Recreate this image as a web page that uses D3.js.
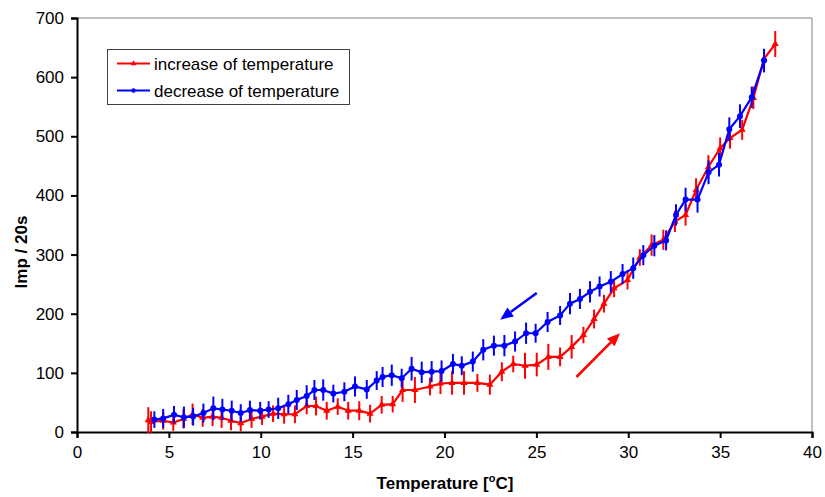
<!DOCTYPE html>
<html>
<head>
<meta charset="utf-8">
<script src="https://cdn.jsdelivr.net/npm/d3@7"></script>
<style>
  body { margin: 0; background: #fff; }
  text { font-family: "Liberation Sans", Arial, sans-serif; }
</style>
</head>
<body>
<svg id="chart" width="825" height="497"></svg>
<script>
// increase of temperature (red)
var upTemp = [3.88, 4.03, 4.69, 5.24, 5.79, 6.29, 6.84, 7.38, 7.87, 8.38, 8.91, 9.5, 10.07, 10.67, 11.27, 11.86,
    12.5, 13.01, 13.59, 14.19, 14.76, 15.36, 15.95, 16.58, 17.18, 17.72, 18.39, 19.21, 19.78, 20.41, 21.06,
    21.79, 22.47, 23.12, 23.74, 24.38, 25.02, 25.65, 26.29, 26.92, 27.56, 28.14, 28.68, 29.23, 29.96, 30.63,
    31.27, 31.91, 32.54, 33.12, 33.69, 34.36, 35.0, 35.54, 36.2, 36.81, 37.39, 38.0];
var upImp = [20, 17, 19, 16, 22, 30, 24, 26, 24, 19, 15, 22, 26, 31, 30, 30,
    44, 44, 36, 43, 36, 36, 31, 46, 47, 71, 71, 77, 82, 83, 83,
    83, 80, 102, 115, 112, 114, 127, 127, 144, 164, 191, 217, 243, 257, 295,
    316, 325, 356, 367, 409, 448, 480, 497, 511, 565, 631, 656];
var upErr = [22, 18, 15, 14, 16, 18, 15, 16, 17, 16, 14, 15, 14, 14, 16, 15,
    14, 16, 15, 14, 15, 16, 15, 15, 14, 20, 22, 15, 18, 20, 20,
    15, 17, 16, 14, 22, 20, 22, 16, 20, 14, 16, 15, 15, 16, 14,
    18, 17, 18, 18, 20, 20, 18, 18, 17, 19, 16, 22];

// decrease of temperature (blue)
var downTemp = [4.21, 4.69, 5.28, 5.82, 6.32, 6.88, 7.42, 7.91, 8.42, 8.91, 9.41, 9.97, 10.43, 10.95, 11.5,
    11.96, 12.5, 12.92, 13.4, 13.95, 14.55, 15.13, 15.77, 16.31, 16.63, 17.13, 17.67, 18.21, 18.76, 19.3,
    19.84, 20.46, 20.94, 21.54, 22.11, 22.69, 23.26, 23.84, 24.44, 24.96, 25.61, 26.29, 26.83, 27.37, 27.92,
    28.44, 29.05, 29.69, 30.27, 30.82, 31.42, 32.06, 32.6, 33.12, 33.77, 34.37, 34.94, 35.5, 36.08, 36.72, 37.39];
var downImp = [21, 23, 29, 25, 26, 32, 40, 38, 36, 32, 37, 36, 38, 40, 47,
    54, 61, 71, 71, 65, 68, 77, 72, 87, 93, 96, 91, 107, 101, 102,
    103, 115, 112, 119, 139, 146, 146, 153, 167, 167, 186, 197, 217, 225, 237,
    246, 254, 267, 277, 299, 315, 324, 367, 393, 393, 439, 452, 512, 534, 566, 628];
var downErr = [14, 16, 15, 18, 15, 16, 20, 18, 17, 15, 16, 15, 14, 18, 16,
    17, 18, 17, 18, 15, 16, 17, 16, 16, 17, 18, 16, 20, 18, 18,
    18, 17, 16, 17, 18, 17, 18, 17, 18, 16, 17, 16, 18, 17, 18,
    17, 18, 17, 18, 17, 18, 17, 18, 20, 22, 20, 20, 20, 20, 18, 20];

var xTicks = [0, 5, 10, 15, 20, 25, 30, 35, 40];
var yTicks = [0, 100, 200, 300, 400, 500, 600, 700];

// direction arrows [fromTemp, fromImp, toTemp, toImp]
var arrows = [
    { color: '#0000ff', pts: [25.02, 235, 23.03, 190] },
    { color: '#ff0000', pts: [27.18, 93, 29.55, 167] }
];

var svg = d3.select('#chart');
var x = d3.scaleLinear().domain([0, 40]).range([77, 812]);
var y = d3.scaleLinear().domain([0, 700]).range([432, 18]);

// top and right frame
svg.append('path')
    .attr('d', 'M' + x(0) + ',' + y(700) + 'H' + x(40) + 'V' + y(0))
    .attr('fill', 'none')
    .attr('stroke', '#808080')
    .attr('stroke-width', 1);

// axes
var xAxis = svg.append('g')
    .attr('transform', 'translate(0,' + y(0) + ')')
    .call(d3.axisBottom(x).tickValues(xTicks).tickSize(6).tickPadding(8));
var yAxis = svg.append('g')
    .attr('transform', 'translate(' + x(0) + ',0)')
    .call(d3.axisLeft(y).tickValues(yTicks).tickSize(6).tickPadding(7));
[xAxis, yAxis].forEach(function (g) {
    g.select('.domain').attr('stroke', '#000').attr('stroke-width', 2);
    g.selectAll('.tick line').attr('stroke', '#000').attr('stroke-width', 2);
    g.selectAll('.tick text').attr('font-size', 17).attr('fill', '#000')
        .attr('font-family', '"Liberation Sans", Arial, sans-serif');
});

// axis titles
svg.append('text')
    .attr('x', 445).attr('y', 489)
    .attr('text-anchor', 'middle')
    .attr('font-size', 17).attr('font-weight', 'bold')
    .html('Temperature [<tspan dy="-7" font-size="11">o</tspan><tspan dy="7">C]</tspan>');
svg.append('text')
    .attr('transform', 'translate(27,252) rotate(-90)')
    .attr('text-anchor', 'middle')
    .attr('font-size', 17).attr('font-weight', 'bold')
    .text('Imp / 20s');

var series = [
    { t: upTemp, v: upImp, e: upErr, color: '#ff0000', marker: 'tri' },
    { t: downTemp, v: downImp, e: downErr, color: '#0000ff', marker: 'dot' }
];

var line = d3.line().x(function (d) { return x(d.t); }).y(function (d) { return y(d.v); });
var triangle = d3.symbol().type(d3.symbolTriangle).size(22);

series.forEach(function (s) {
    var pts = s.t.map(function (t, i) { return { t: t, v: s.v[i], e: s.e[i] }; });
    var g = svg.append('g');

    g.selectAll('.err')
        .data(pts).enter().append('line')
        .attr('x1', function (d) { return x(d.t); })
        .attr('x2', function (d) { return x(d.t); })
        .attr('y1', function (d) { return y(d.v - d.e); })
        .attr('y2', function (d) { return y(d.v + d.e); })
        .attr('stroke', s.color)
        .attr('stroke-width', 2);

    g.append('path')
        .datum(pts)
        .attr('d', line)
        .attr('fill', 'none')
        .attr('stroke', s.color)
        .attr('stroke-width', 2.2);

    if (s.marker === 'tri') {
        g.selectAll('.mk')
            .data(pts).enter().append('path')
            .attr('d', triangle)
            .attr('transform', function (d) { return 'translate(' + x(d.t) + ',' + y(d.v) + ')'; })
            .attr('fill', s.color);
    } else {
        g.selectAll('.mk')
            .data(pts).enter().append('circle')
            .attr('cx', function (d) { return x(d.t); })
            .attr('cy', function (d) { return y(d.v); })
            .attr('r', 3)
            .attr('fill', s.color);
    }
});

// arrows
arrows.forEach(function (a) {
    var x1 = x(a.pts[0]), y1 = y(a.pts[1]), x2 = x(a.pts[2]), y2 = y(a.pts[3]);
    var ang = Math.atan2(y2 - y1, x2 - x1);
    var len = 13, w = 5.5;
    var bx = x2 - len * Math.cos(ang), by = y2 - len * Math.sin(ang);
    svg.append('line')
        .attr('x1', x1).attr('y1', y1).attr('x2', bx).attr('y2', by)
        .attr('stroke', a.color).attr('stroke-width', 2.5);
    svg.append('path')
        .attr('d', 'M' + x2 + ',' + y2 +
            'L' + (bx + w * Math.sin(ang)) + ',' + (by - w * Math.cos(ang)) +
            'L' + (bx - w * Math.sin(ang)) + ',' + (by + w * Math.cos(ang)) + 'Z')
        .attr('fill', a.color);
});

// legend
var legend = svg.append('g');
legend.append('rect')
    .attr('x', 107.5).attr('y', 49.5).attr('width', 242).attr('height', 55)
    .attr('fill', '#fff').attr('stroke', '#404040').attr('stroke-width', 1);
series.forEach(function (s, i) {
    var ly = 63.5 + i * 27;
    legend.append('line')
        .attr('x1', 117).attr('x2', 150).attr('y1', ly).attr('y2', ly)
        .attr('stroke', s.color).attr('stroke-width', 2);
    if (s.marker === 'tri') {
        legend.append('path').attr('d', d3.symbol().type(d3.symbolTriangle).size(14))
            .attr('transform', 'translate(133.5,' + ly + ')').attr('fill', s.color);
    } else {
        legend.append('circle').attr('cx', 133.5).attr('cy', ly).attr('r', 2.2).attr('fill', s.color);
    }
    legend.append('text')
        .attr('x', 154).attr('y', ly + 6)
        .attr('font-size', 17)
        .text(i === 0 ? 'increase of temperature' : 'decrease of temperature');
});
</script>
</body>
</html>
